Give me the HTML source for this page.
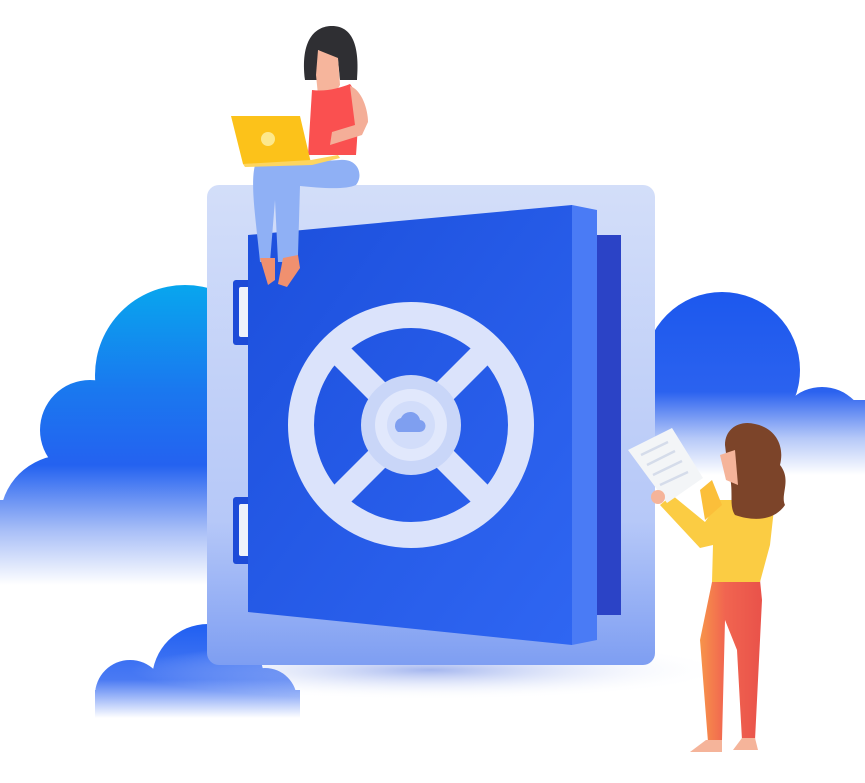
<!DOCTYPE html>
<html><head><meta charset="utf-8"><style>html,body{margin:0;padding:0;background:#fff}svg{display:block}</style></head>
<body>
<svg width="865" height="783" viewBox="0 0 865 783" xmlns="http://www.w3.org/2000/svg">
<defs>
<linearGradient id="cl" gradientUnits="userSpaceOnUse" x1="0" y1="285" x2="0" y2="585">
<stop offset="0" stop-color="#08a6ee"/><stop offset="0.35" stop-color="#1a78ef"/><stop offset="0.6" stop-color="#2462f0"/><stop offset="0.82" stop-color="#a9bff7"/><stop offset="1" stop-color="#ffffff"/></linearGradient>
<linearGradient id="cl2" gradientUnits="userSpaceOnUse" x1="0" y1="290" x2="0" y2="475">
<stop offset="0" stop-color="#1c58ee"/><stop offset="0.55" stop-color="#2b62ef"/><stop offset="0.8" stop-color="#b5c8f8"/><stop offset="1" stop-color="#ffffff"/></linearGradient>
<linearGradient id="cl3" gradientUnits="userSpaceOnUse" x1="0" y1="622" x2="0" y2="718">
<stop offset="0" stop-color="#1e5ef2"/><stop offset="0.6" stop-color="#4a7af3"/><stop offset="1" stop-color="#ffffff"/></linearGradient>
<linearGradient id="body" x1="0" y1="0" x2="0" y2="1">
<stop offset="0" stop-color="#d3def9"/><stop offset="0.7" stop-color="#b6c8f8"/><stop offset="1" stop-color="#7e9ef2"/></linearGradient>
<linearGradient id="door" x1="0" y1="0" x2="1" y2="1">
<stop offset="0" stop-color="#1c4fdc"/><stop offset="1" stop-color="#2f66f2"/></linearGradient>
<radialGradient id="sh" cx="0.5" cy="0.5" r="0.5"><stop offset="0" stop-color="#7d97e8" stop-opacity="0.7"/><stop offset="1" stop-color="#fff" stop-opacity="0"/></radialGradient>
<linearGradient id="pant" x1="0" y1="0" x2="1" y2="0"><stop offset="0" stop-color="#f7944a"/><stop offset="0.4" stop-color="#f16550"/><stop offset="1" stop-color="#e9524a"/></linearGradient>
</defs>
<g fill="url(#cl)">
<circle cx="185" cy="375" r="90"/>
<circle cx="90" cy="430" r="50"/>
<circle cx="175" cy="470" r="90"/>
<circle cx="65" cy="520" r="65"/>
<rect x="0" y="500" width="230" height="85"/>
</g>
<g fill="url(#cl2)">
<circle cx="722" cy="370" r="78"/>
<circle cx="822" cy="432" r="45"/>
<rect x="650" y="400" width="215" height="75"/>
</g>
<g fill="url(#cl3)">
<circle cx="208" cy="680" r="56"/>
<circle cx="130" cy="695" r="35"/>
<circle cx="265" cy="700" r="32"/>
<rect x="95" y="690" width="205" height="30"/>
</g>
<ellipse cx="430" cy="670" rx="300" ry="30" fill="url(#sh)"/>
<rect x="207" y="185" width="448" height="480" rx="12" fill="url(#body)"/>
<rect x="597" y="235" width="24" height="380" fill="#2b43c6"/>
<rect x="233" y="280" width="22" height="65" rx="3" fill="#1d4bd8"/>
<rect x="239" y="287" width="14" height="50" rx="2" fill="#eef2fb"/>
<rect x="233" y="497" width="22" height="67" rx="3" fill="#1d4bd8"/>
<rect x="239" y="504" width="14" height="52" rx="2" fill="#eef2fb"/>
<polygon points="572,205 597,210 597,640 572,645" fill="#4a7bf5"/>
<polygon points="248,235 572,205 572,645 248,612" fill="url(#door)"/>
<g stroke="#dbe3fb" fill="none">
<circle cx="411" cy="425" r="110" stroke-width="26"/>
<line x1="340" y1="354" x2="482" y2="496" stroke-width="24"/>
<line x1="482" y1="354" x2="340" y2="496" stroke-width="24"/>
</g>
<circle cx="411" cy="425" r="50" fill="#c9d6f8"/>
<circle cx="411" cy="425" r="36" fill="#e1e8fc"/>
<circle cx="411" cy="425" r="24" fill="#d2ddfa"/>
<path d="M398 432 a8 8 0 0 1 3 -14 a10 10 0 0 1 19 2 a6 6 0 0 1 -1 12 z" fill="#7f9ff0"/>
<path d="M305 80 C300 40 315 26 332 26 C352 26 360 45 357 80 L340 80 L338 60 L318 50 L318 80 Z" fill="#2f2f33"/>
<path d="M318 50 L338 58 L340 85 L332 98 L318 95 L316 75 Z" fill="#f6b59c"/>
<path d="M312 90 C325 92 340 88 350 84 C360 95 358 130 356 155 L308 155 Z" fill="#fa5050"/>
<path d="M350 86 C362 90 368 110 368 122 L362 135 L330 145 L332 132 L355 125 Z" fill="#f4ae98"/>
<path d="M255 165 L340 160 C358 158 364 175 356 185 C345 190 320 188 300 186 L298 255 L285 262 L278 262 L275 200 L270 262 L260 262 C256 220 250 185 255 165Z" fill="#8fb0f5"/>
<path d="M260 258 L275 258 L275 280 L268 285 Z" fill="#f0906f"/>
<path d="M283 258 L298 255 L300 268 L287 287 L278 284 Z" fill="#f0906f"/>
<polygon points="231,116 300,116 311,163 243,164" fill="#fcc21a"/>
<polygon points="243,164 311,160 338,155 340,158 312,165 245,167" fill="#fdd560"/>
<circle cx="268" cy="139" r="7" fill="#fde88c"/>
<path d="M712 582 L760 580 L762 600 L755 740 L742 740 L737 650 L725 620 L722 740 L708 742 L700 640 Z" fill="url(#pant)"/>
<path d="M706 740 L722 740 L722 752 L690 752 Z" fill="#f5b49a"/>
<path d="M742 738 L755 738 L758 750 L733 750 Z" fill="#f5b49a"/>
<path d="M720 500 L775 500 L770 545 L760 582 L712 582 L713 545 L700 548 L660 505 L672 495 L705 522 Z" fill="#fbcc43"/>
<path d="M700 490 L712 480 L722 505 L705 520 Z" fill="#fbbf3a"/>
<polygon points="628,450 672,428 703,478 667,503" fill="#f3f5f7"/>
<g stroke="#d5dcea" stroke-width="2.5"><line x1="641" y1="455" x2="668" y2="442"/><line x1="647" y1="465" x2="675" y2="451"/><line x1="653" y1="475" x2="682" y2="461"/><line x1="660" y1="485" x2="688" y2="472"/></g>
<circle cx="658" cy="497" r="7" fill="#f5b49a"/>
<path d="M725 445 C725 428 740 420 755 424 C775 428 785 445 780 465 C792 480 780 495 785 505 C775 520 755 522 735 515 C728 505 735 490 728 470 Z" fill="#7c4429"/>
<path d="M720 455 L735 450 L738 485 L726 480 Z" fill="#f5b49a"/>
</svg>
</body></html>
